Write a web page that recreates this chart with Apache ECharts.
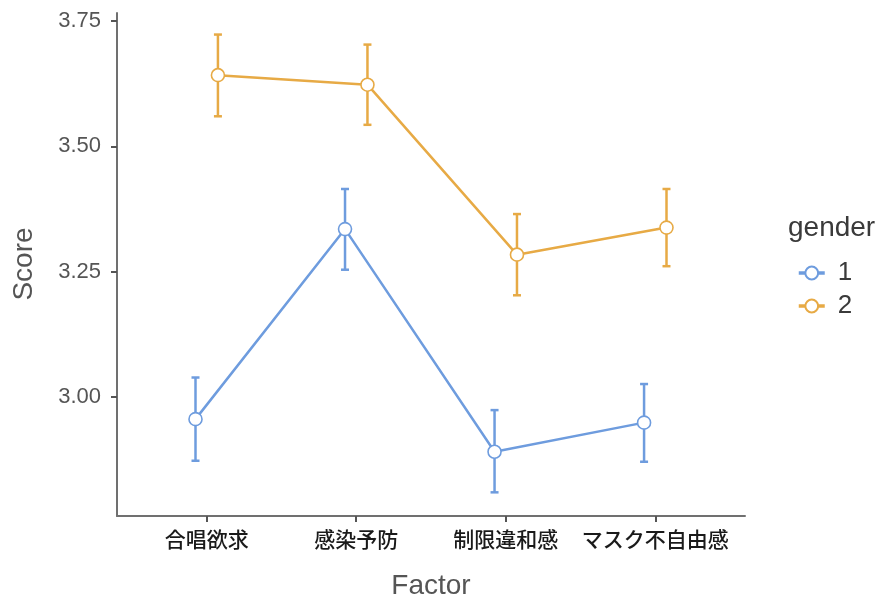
<!DOCTYPE html>
<html>
<head>
<meta charset="utf-8">
<script src="https://cdn.jsdelivr.net/npm/echarts@6/dist/echarts.min.js"></script>
<style>
  html, body { margin: 0; padding: 0; background: #ffffff; }
  #chart { width: 883px; height: 599px; }
</style>
</head>
<body>
<div id="chart"></div>
<script>
// Factor categories along the x axis
const categories = ['合唱欲求', '感染予防', '制限違和感', 'マスク不自由感'];
const yTicks = [3.00, 3.25, 3.50, 3.75];

// gender = 1: mean score and confidence interval bounds
const g1Mean  = [2.956, 3.335, 2.891, 2.949];
const g1Lower = [2.873, 3.254, 2.810, 2.871];
const g1Upper = [3.039, 3.415, 2.974, 3.026];

// gender = 2: mean score and confidence interval bounds
const g2Mean  = [3.642, 3.623, 3.284, 3.338];
const g2Lower = [3.560, 3.543, 3.203, 3.261];
const g2Upper = [3.723, 3.703, 3.365, 3.415];

const groupNames = ['1', '2'];
const colors = ['#6e9cde', '#e7aa45'];
const dodge = 0.075;          // horizontal offset of each group from the category centre
const latinFont = '"Liberation Sans", Arial, sans-serif';
const cjkFont = '"Noto Sans CJK JP", "Noto Sans", sans-serif';

function points(mean, shift) {
  return mean.map((v, i) => [i + 1 + shift, v]);
}
function bars(lower, upper, shift) {
  return lower.map((lo, i) => [i + 1 + shift, lo, upper[i]]);
}

function errorBar(color) {
  return function (params, api) {
    const x = api.value(0);
    const lo = api.coord([x, api.value(1)]);
    const hi = api.coord([x, api.value(2)]);
    const cap = 4;
    const style = { stroke: color, lineWidth: 2.5 };
    return {
      type: 'group',
      children: [
        { type: 'line', shape: { x1: lo[0], y1: lo[1], x2: hi[0], y2: hi[1] }, style },
        { type: 'line', shape: { x1: hi[0] - cap, y1: hi[1], x2: hi[0] + cap, y2: hi[1] }, style },
        { type: 'line', shape: { x1: lo[0] - cap, y1: lo[1], x2: lo[0] + cap, y2: lo[1] }, style }
      ]
    };
  };
}

function lineSeries(name, mean, shift, color) {
  return {
    name: name,
    type: 'line',
    data: points(mean, shift),
    symbol: 'circle',
    symbolSize: 13,
    z: 5,
    lineStyle: { color: color, width: 2.5 },
    itemStyle: { color: '#ffffff', borderColor: color, borderWidth: 1.6 },
    emphasis: { disabled: true },
    animation: false
  };
}

function barSeries(lower, upper, shift, color) {
  return {
    type: 'custom',
    data: bars(lower, upper, shift),
    renderItem: errorBar(color),
    encode: { x: 0, y: [1, 2] },
    z: 3,
    silent: true,
    animation: false
  };
}

const chart = echarts.init(document.getElementById('chart'), null, { renderer: 'canvas' });

chart.setOption({
  backgroundColor: '#ffffff',
  animation: false,
  grid: { left: 117, right: 138, top: 13, bottom: 83, containLabel: false },
  xAxis: {
    type: 'value',
    min: 0.4,
    max: 4.6,
    splitLine: { show: false },
    axisLine: { show: true, lineStyle: { color: '#707070', width: 2 } },
    axisTick: { show: true, customValues: [1, 2, 3, 4], length: 6, lineStyle: { color: '#555555', width: 2 } },
    axisLabel: {
      customValues: [1, 2, 3, 4],
      formatter: v => categories[Math.round(v) - 1],
      margin: 13,
      fontFamily: cjkFont,
      fontSize: 21,
      fontWeight: 500,
      color: '#1a1a1a'
    }
  },
  yAxis: {
    type: 'value',
    min: 2.7628,
    max: 3.766,
    splitLine: { show: false },
    axisLine: { show: true, lineStyle: { color: '#707070', width: 2 } },
    axisTick: { show: true, customValues: yTicks, length: 6, lineStyle: { color: '#555555', width: 2 } },
    axisLabel: {
      customValues: yTicks,
      formatter: v => v.toFixed(2),
      margin: 16,
      fontFamily: latinFont,
      fontSize: 22,
      color: '#555555'
    }
  },
  legend: {
    orient: 'vertical',
    left: 792,
    top: 255,
    itemWidth: 26,
    itemHeight: 16,
    itemGap: 7,
    data: groupNames,
    selectedMode: false,
    lineStyle: { width: 3.5 },
    textStyle: {
      fontFamily: latinFont,
      fontSize: 26,
      lineHeight: 26,
      color: '#3a3a3a',
      padding: [0, 0, 0, 8]
    }
  },
  graphic: [
    {
      type: 'text',
      x: 788,
      y: 228,
      style: {
        text: 'gender',
        fontFamily: latinFont,
        fontSize: 28,
        fill: '#3a3a3a',
        align: 'left',
        verticalAlign: 'middle'
      }
    },
    {
      type: 'text',
      x: 431,
      y: 586,
      style: {
        text: 'Factor',
        fontFamily: latinFont,
        fontSize: 28,
        fill: '#555555',
        align: 'center',
        verticalAlign: 'middle'
      }
    },
    {
      type: 'text',
      x: 24,
      y: 264,
      rotation: Math.PI / 2,
      style: {
        text: 'Score',
        fontFamily: latinFont,
        fontSize: 28,
        fill: '#555555',
        align: 'center',
        verticalAlign: 'middle'
      }
    }
  ],
  series: [
    barSeries(g1Lower, g1Upper, -dodge, colors[0]),
    barSeries(g2Lower, g2Upper, dodge, colors[1]),
    lineSeries(groupNames[0], g1Mean, -dodge, colors[0]),
    lineSeries(groupNames[1], g2Mean, dodge, colors[1])
  ]
});
</script>
</body>
</html>
